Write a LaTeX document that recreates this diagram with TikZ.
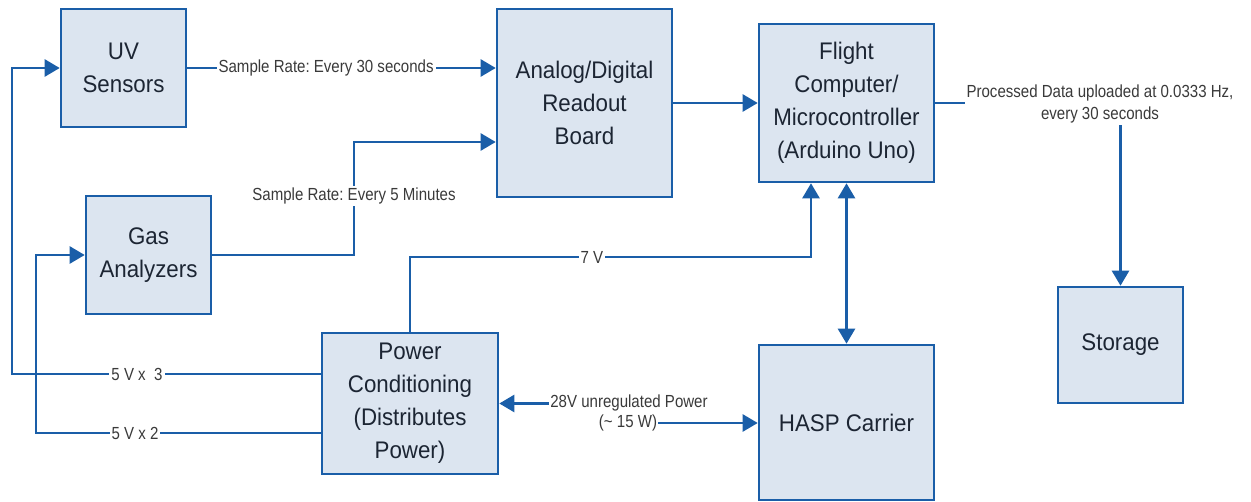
\documentclass[tikz,border=0pt]{standalone}
\usepackage{fontspec}
\setmainfont{Liberation Sans}
\newfontfamily\boxfont{Liberation Sans}[FakeStretch=0.93]
\newfontfamily\lblfont{Liberation Sans}[FakeStretch=0.86]
\usetikzlibrary{arrows.meta}
\frenchspacing
\definecolor{linkblue}{HTML}{1A5EA8}
\definecolor{boxfill}{HTML}{DCE5F0}
\definecolor{boxtext}{HTML}{1C2533}
\definecolor{lbltext}{HTML}{3A3A3A}
\tikzset{
  block/.style={draw=linkblue, line width=2.6pt, fill=boxfill, align=center,
    inner sep=0pt, text=boxtext, font=\boxfont\fontsize{24}{33}\selectfont},
  link/.style={draw=linkblue, line width=2.5pt,
    -{Triangle[length=15pt,width=17pt]}},
  twoway/.style={draw=linkblue, line width=2.5pt,
    {Triangle[length=15pt,width=17pt]}-{Triangle[length=15pt,width=17pt]}},
  lbl/.style={fill=white, inner sep=2pt, align=center, text=lbltext,
    font=\lblfont\fontsize{17.5}{22}\selectfont}
}
\begin{document}
\begin{tikzpicture}[x=1pt,y=-1pt]
  \useasboundingbox (0,0) rectangle (1251,502);

  % blocks
  \node[block, minimum width=125pt, minimum height=118pt] (uv) at (123.5,68) {UV\\Sensors};
  \node[block, minimum width=125pt, minimum height=118pt] (gas) at (148.5,255) {Gas\\Analyzers};
  \node[block, minimum width=175pt, minimum height=188pt] (adb) at (584.5,103) {Analog/Digital\\Readout\\Board};
  \node[block, minimum width=175pt, minimum height=158pt] (fc) at (846.5,103) {Flight\\Computer/\\Microcontroller\\(Arduino Uno)};
  \node[block, minimum width=176pt, minimum height=141pt] (pc) at (410,403.5) {Power\\Conditioning\\(Distributes\\Power)};
  \node[block, minimum width=175pt, minimum height=155pt] (hasp) at (846.5,422.5) {HASP Carrier};
  \node[block, minimum width=125pt, minimum height=116pt] (st) at (1120.5,345) {Storage};

  % bend points
  \coordinate (gbend) at (354,142);
  \coordinate (vbend) at (811,257);
  \coordinate (ubend) at (12,374);
  \coordinate (abend) at (36,433);
  \coordinate (pa) at (630,403.5);
  \coordinate (pb) at (630,423);

  % sensor data
  \draw[link] (uv.east) -- (uv.east -| adb.west)
    node[lbl, pos=0.45] (uvrate) {Sample Rate: Every 30 seconds};
  \draw[link] (gas.east) -| (gbend) -- (gbend -| adb.west);
  \node[lbl] (gasrate) at (354,196) {Sample Rate: Every 5 Minutes};
  \draw[link] (adb.east) -- (fc.west);

  % downlink to storage
  \draw[link] (fc.east) -| (st.north);
  \node[lbl] (uplink) at (1100,104) {Processed Data uploaded at 0.0333 Hz,\\every 30 seconds};

  % computer <-> carrier
  \draw[twoway] (fc.south) -- (hasp.north);

  % power distribution
  \draw[link] (pc.north) |- (vbend) -- (vbend |- fc.south);
  \node[lbl] (sevenv) at (592,257) {7 V};
  \draw[link] (pc.west |- ubend) -- (ubend) |- (uv.west);
  \node[lbl] (fivea) at (137,374) {5 V x\ \ 3};
  \draw[link] (pc.west |- abend) -- (abend) |- (gas.west);
  \node[lbl] (fiveb) at (135,433) {5 V x 2};
  \draw[twoway] (pc.east |- pa) -- (pa) -- (pb) -- (pb -| hasp.west);
  \node[lbl, inner xsep=1pt, inner ysep=4pt] (supplya) at (629,403) {28V unregulated Power};
  \node[lbl, inner xsep=1pt, inner ysep=3pt] (supplyb) at (628,423) {(\textasciitilde{} 15 W)};
\end{tikzpicture}
\end{document}
